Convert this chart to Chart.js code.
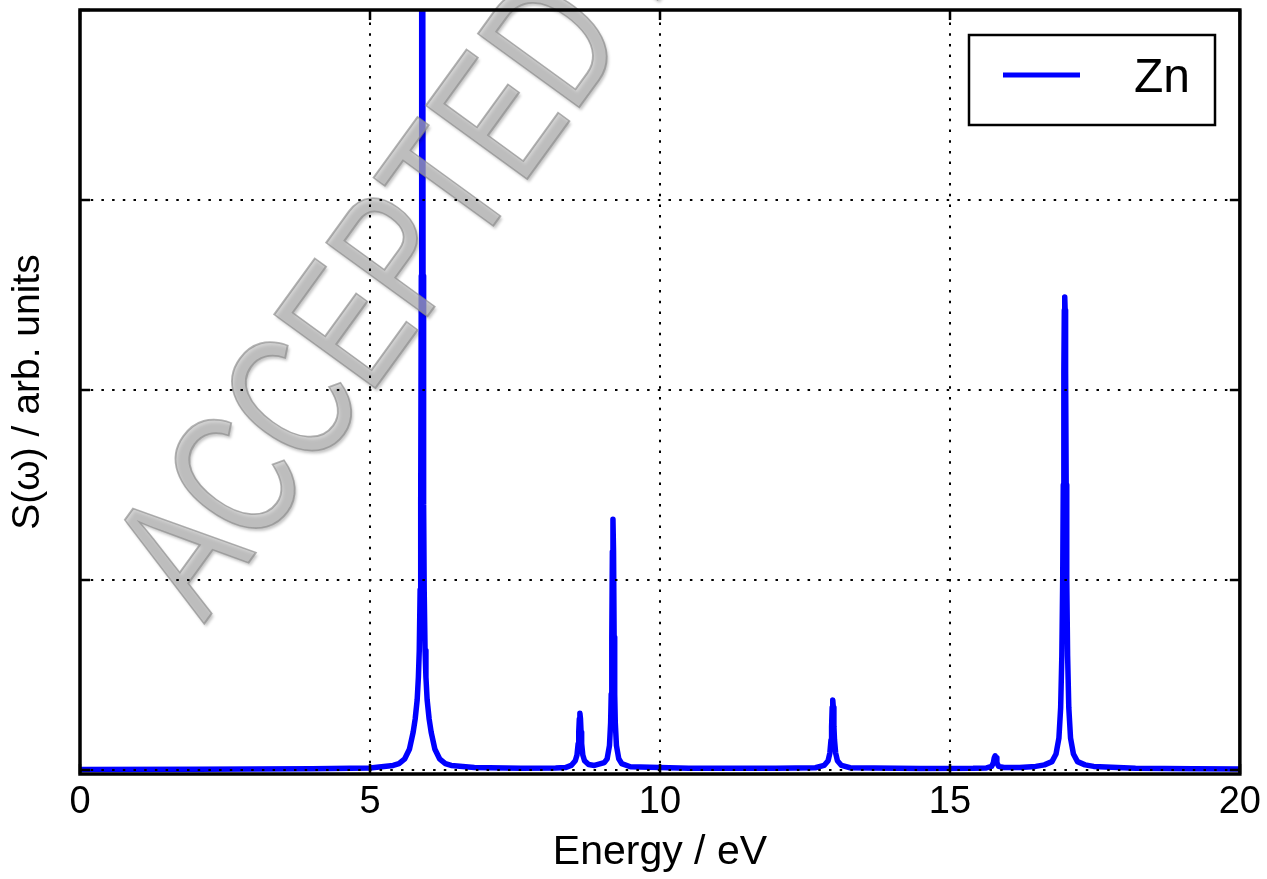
<!DOCTYPE html>
<html>
<head>
<meta charset="utf-8">
<script src="https://cdn.jsdelivr.net/npm/chart.js@4.4.1/dist/chart.umd.min.js"></script>
<style>
  body { margin: 0; background: #fff; }
  #wrap { width: 1267px; height: 879px; }
</style>
</head>
<body>
<div id="wrap"><canvas id="chart" width="1267" height="879"></canvas></div>
<script>
const FONT = "'Liberation Sans', Arial, Helvetica, sans-serif";

// energy axis (eV) and S(w) values
const energy = [
  0, 2, 4, 5, 5.4,
  5.5, 5.6, 5.68, 5.745, 5.78, 5.814, 5.835, 5.85, 5.865, 5.875, 5.885, 5.892, 5.9,
  5.908, 5.915, 5.925, 5.935, 5.95, 5.965, 5.986, 6.02, 6.055, 6.12, 6.2, 6.3, 6.4, 6.8, 7.6, 8.2,
  8.37, 8.47, 8.54, 8.57, 8.59, 8.6, 8.61, 8.62, 8.63, 8.64, 8.65, 8.67, 8.7, 8.77, 8.87,
  9.04, 9.09, 9.13, 9.15, 9.16, 9.17, 9.18, 9.19, 9.2, 9.21, 9.22, 9.23, 9.25, 9.29, 9.34, 9.49, 10.5, 12.0,
  12.68, 12.83, 12.9, 12.93, 12.95, 12.96, 12.97, 12.98, 12.99, 13.0, 13.01, 13.03, 13.06, 13.13, 13.28, 14.5, 15.4,
  15.63, 15.72, 15.75, 15.765, 15.78, 15.795, 15.81, 15.84, 15.93, 16.2,
  16.48, 16.63, 16.76, 16.83, 16.88, 16.91, 16.93, 16.945, 16.955, 16.965, 16.973, 16.98,
  16.987, 16.995, 17.005, 17.015, 17.03, 17.05, 17.08, 17.13, 17.2, 17.33, 17.48, 18.2, 19.2, 20
];
const znSignal = [
  0.004, 0.005, 0.007, 0.012, 0.025,
  0.035, 0.06, 0.11, 0.2, 0.27, 0.37, 0.49, 0.63, 0.95, 1.4, 2.6, 5, 12,
  5, 2.6, 1.4, 0.95, 0.63, 0.49, 0.37, 0.27, 0.2, 0.11, 0.06, 0.035, 0.025, 0.014, 0.01, 0.012,
  0.014, 0.025, 0.05, 0.08, 0.14, 0.2, 0.27, 0.30, 0.27, 0.2, 0.14, 0.08, 0.05, 0.03, 0.025,
  0.04, 0.06, 0.13, 0.25, 0.4, 0.7, 1.15, 1.32, 1.15, 0.7, 0.4, 0.25, 0.13, 0.06, 0.035, 0.018, 0.01, 0.01,
  0.013, 0.025, 0.05, 0.09, 0.16, 0.23, 0.33, 0.37, 0.33, 0.23, 0.16, 0.09, 0.05, 0.025, 0.013, 0.009, 0.01,
  0.012, 0.02, 0.04, 0.065, 0.076, 0.065, 0.04, 0.02, 0.014, 0.014,
  0.02, 0.028, 0.045, 0.085, 0.17, 0.33, 0.6, 1.0, 1.5, 2.1, 2.42, 2.49,
  2.42, 2.1, 1.5, 1.0, 0.6, 0.33, 0.17, 0.085, 0.045, 0.028, 0.02, 0.01, 0.007, 0.006
];

const xTicks = [0, 5, 10, 15, 20];
const yTicks = [0, 1, 2, 3, 4];
const seriesLabel = "Zn";
const watermark = "ACCEPTED MANUSCRIPT";

// watermark, dotted grid, frame with inward ticks, boxed legend
const overlay = {
  id: "overlay",
  afterDatasetsDraw(chart) {
    const { ctx, chartArea: a, scales: { x, y } } = chart;

    // watermark
    ctx.save();
    ctx.translate(204, 624);
    ctx.rotate(-54 * Math.PI / 180);
    ctx.scale(0.73, 1);
    ctx.font = "182px " + FONT;
    ctx.textBaseline = "alphabetic";
    ctx.globalAlpha = 0.65;
    ctx.shadowColor = "rgba(0,0,0,0.35)";
    ctx.shadowOffsetX = 2;
    ctx.shadowOffsetY = 3;
    ctx.shadowBlur = 3;
    ctx.fillStyle = "#b8b8b8";
    ctx.fillText(watermark, 0, 0);
    ctx.shadowColor = "transparent";
    ctx.strokeStyle = "#8a8a8a";
    ctx.lineWidth = 2;
    ctx.strokeText(watermark, 0, 0);
    ctx.restore();

    // dotted grid
    ctx.save();
    ctx.strokeStyle = "#000";
    ctx.lineWidth = 2;
    ctx.setLineDash([2.5, 8.2]);
    x.ticks.forEach(t => {
      if (t.value <= x.min || t.value >= x.max) return;
      const px = Math.round(x.getPixelForValue(t.value));
      ctx.beginPath();
      ctx.moveTo(px, a.bottom);
      ctx.lineTo(px, a.top);
      ctx.stroke();
    });
    y.ticks.forEach(t => {
      if (t.value >= y.max) return;
      const py = Math.round(y.getPixelForValue(t.value));
      ctx.beginPath();
      ctx.moveTo(a.left, py);
      ctx.lineTo(a.right, py);
      ctx.stroke();
    });
    ctx.restore();

    // inward ticks
    ctx.save();
    ctx.strokeStyle = "#000";
    ctx.lineWidth = 2.5;
    const tl = 10;
    x.ticks.forEach(t => {
      const px = Math.round(x.getPixelForValue(t.value));
      ctx.beginPath();
      ctx.moveTo(px, a.bottom); ctx.lineTo(px, a.bottom - tl);
      ctx.moveTo(px, a.top); ctx.lineTo(px, a.top + tl);
      ctx.stroke();
    });
    y.ticks.forEach(t => {
      const py = Math.round(y.getPixelForValue(t.value));
      ctx.beginPath();
      ctx.moveTo(a.left, py); ctx.lineTo(a.left + tl, py);
      ctx.moveTo(a.right, py); ctx.lineTo(a.right - tl, py);
      ctx.stroke();
    });

    // frame
    ctx.lineWidth = 3.5;
    ctx.strokeRect(a.left, a.top, a.right - a.left, a.bottom - a.top);
    ctx.restore();

    // legend box
    const ds = chart.data.datasets[0];
    ctx.save();
    ctx.fillStyle = "#fff";
    ctx.fillRect(969, 35, 246, 90);
    ctx.strokeStyle = "#000";
    ctx.lineWidth = 2.5;
    ctx.strokeRect(969, 35, 246, 90);
    ctx.strokeStyle = ds.borderColor;
    ctx.lineWidth = 5;
    ctx.beginPath();
    ctx.moveTo(1003, 75);
    ctx.lineTo(1080, 75);
    ctx.stroke();
    ctx.fillStyle = "#000";
    ctx.font = "48px " + FONT;
    ctx.textBaseline = "alphabetic";
    ctx.fillText(ds.label, 1134, 92);
    ctx.restore();
  }
};

new Chart(document.getElementById("chart"), {
  type: "line",
  data: {
    datasets: [{
      label: seriesLabel,
      data: energy.map((e, i) => ({ x: e, y: znSignal[i] })),
      borderColor: "#0000ff",
      borderWidth: 5.5,
      borderJoinStyle: "round",
      borderCapStyle: "round",
      pointRadius: 0,
      tension: 0,
      fill: false
    }]
  },
  options: {
    responsive: false,
    animation: false,
    events: [],
    layout: { padding: { top: 10, right: 27, left: 0, bottom: 0 } },
    plugins: { legend: { display: false }, tooltip: { enabled: false } },
    scales: {
      x: {
        type: "linear",
        min: 0,
        max: 20,
        afterBuildTicks: s => { s.ticks = xTicks.map(v => ({ value: v })); },
        afterFit: s => { s.height = 105; },
        grid: { display: false, drawTicks: false },
        border: { display: false },
        ticks: {
          color: "#000",
          font: { family: FONT, size: 38 },
          padding: 6,
          maxRotation: 0,
          autoSkip: false
        },
        title: {
          display: true,
          text: "Energy / eV",
          color: "#000",
          font: { family: FONT, size: 41 },
          padding: { top: 0, bottom: 2 }
        }
      },
      y: {
        type: "linear",
        min: -0.02,
        max: 4,
        afterBuildTicks: s => { s.ticks = yTicks.map(v => ({ value: v })); },
        afterFit: s => { s.width = 80; },
        grid: { display: false, drawTicks: false },
        border: { display: false },
        ticks: { display: false },
        title: {
          display: true,
          text: "S(ω) / arb. units",
          color: "#000",
          font: { family: FONT, size: 39 },
          padding: { top: 5, bottom: 0 }
        }
      }
    }
  },
  plugins: [overlay]
});
</script>
</body>
</html>
